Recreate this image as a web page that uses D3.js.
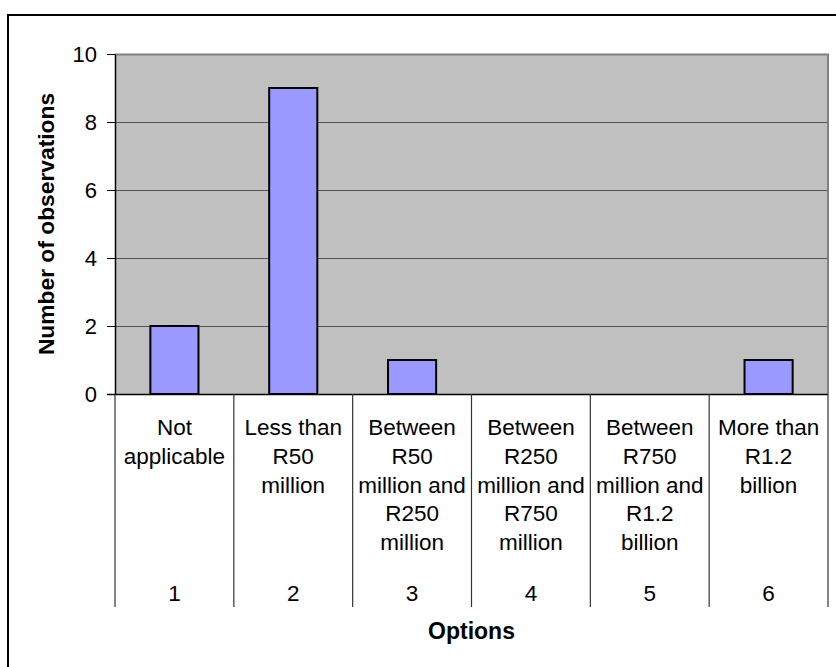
<!DOCTYPE html>
<html>
<head>
<meta charset="utf-8">
<script src="https://cdn.jsdelivr.net/npm/d3@7"></script>
<style>
  html, body { margin: 0; padding: 0; background: #fff; }
  svg { display: block; font-family: "Liberation Sans", Arial, Helvetica, sans-serif; }
</style>
</head>
<body>
<svg id="chart" width="836" height="667"></svg>
<script>
// Option numbers along the axis
const options = [1, 2, 3, 4, 5, 6];
// Wrapped option descriptions, one array of lines per option
const optionLabels = [
  ["Not", "applicable"],
  ["Less than", "R50", "million"],
  ["Between", "R50", "million and", "R250", "million"],
  ["Between", "R250", "million and", "R750", "million"],
  ["Between", "R750", "million and", "R1.2", "billion"],
  ["More than", "R1.2", "billion"]
];
// Number of observations for each option
const observations = [2, 9, 1, 0, 0, 1];
// Value-axis ticks
const yTicks = [0, 2, 4, 6, 8, 10];

const svg = d3.select("#chart");
const plot = { left: 115, right: 828, top: 54, bottom: 394 };
const FONT = "Liberation Sans, Arial, sans-serif";

const x = d3.scaleBand().domain(options).range([plot.left, plot.right]).paddingInner(0).paddingOuter(0);
const y = d3.scaleLinear().domain([0, 10]).range([plot.bottom, plot.top]);

// Chart frame (left and top edges visible)
svg.append("path")
  .attr("d", `M8,667 L8,15 L836,15`)
  .attr("fill", "none").attr("stroke", "#000").attr("stroke-width", 2);

// Plot background
svg.append("rect")
  .attr("x", plot.left).attr("y", plot.top)
  .attr("width", plot.right - plot.left).attr("height", plot.bottom - plot.top)
  .attr("fill", "#c0c0c0");

// Gridlines
svg.append("g").selectAll("line").data(yTicks.filter(d => d > 0 && d < 10)).join("line")
  .attr("x1", plot.left).attr("x2", plot.right)
  .attr("y1", d => y(d) + 0.5).attr("y2", d => y(d) + 0.5)
  .attr("stroke", "#555").attr("stroke-width", 1);

// Plot area top and right borders
svg.append("path")
  .attr("d", `M${plot.left},${plot.top + 0.5} L${plot.right},${plot.top + 0.5} L${plot.right},${plot.bottom}`)
  .attr("fill", "none").attr("stroke", "#808080").attr("stroke-width", 2);

// Bars
const barW = x.bandwidth() * 0.405;
svg.append("g").selectAll("rect").data(options).join("rect")
  .attr("x", (d) => x(d) + (x.bandwidth() - barW) / 2)
  .attr("y", (d, i) => y(observations[i]))
  .attr("width", barW)
  .attr("height", (d, i) => y(0) - y(observations[i]))
  .attr("fill", "#9999ff")
  .attr("stroke", "#000").attr("stroke-width", 2)
  .attr("display", (d, i) => observations[i] > 0 ? null : "none");

// Value axis
const yAxis = d3.axisLeft(y).tickValues(yTicks).tickSize(8).tickPadding(10).tickSizeOuter(0);
const gy = svg.append("g").attr("transform", `translate(${plot.left},0)`).call(yAxis);
gy.select(".domain").attr("stroke", "#000").attr("stroke-width", 1.5);
gy.selectAll(".tick line").attr("stroke", "#000");
gy.selectAll(".tick text").attr("font-size", 22).attr("fill", "#000").attr("font-family", FONT);

// Category axis: baseline plus separators between options
const sepBottom = 607;
svg.append("line")
  .attr("x1", plot.left - 8).attr("x2", plot.right)
  .attr("y1", plot.bottom + 0.5).attr("y2", plot.bottom + 0.5)
  .attr("stroke", "#000").attr("stroke-width", 1.5);
const bounds = options.map(d => x(d)).concat([plot.right]);
svg.append("g").selectAll("line").data(bounds).join("line")
  .attr("x1", d => d).attr("x2", d => d)
  .attr("y1", plot.bottom).attr("y2", sepBottom)
  .attr("stroke", "#333").attr("stroke-width", 1.2);

// Option descriptions
const lineH = 28.8;
const labelG = svg.append("g").attr("font-size", 22.5).attr("text-anchor", "middle").attr("fill", "#000");
options.forEach((d, i) => {
  const cx = x(d) + x.bandwidth() / 2;
  const t = labelG.append("text").attr("x", cx).attr("y", 435);
  optionLabels[i].forEach((line, j) => {
    t.append("tspan").attr("x", cx).attr("dy", j === 0 ? 0 : lineH).text(line);
  });
});

// Option numbers
svg.append("g").selectAll("text").data(options).join("text")
  .attr("x", d => x(d) + x.bandwidth() / 2)
  .attr("y", 601)
  .attr("text-anchor", "middle").attr("font-size", 22.5)
  .text(d => d);

// Axis titles
svg.append("text")
  .attr("x", (plot.left + plot.right) / 2).attr("y", 639)
  .attr("text-anchor", "middle").attr("font-size", 23).attr("font-weight", "bold")
  .text("Options");

svg.append("text")
  .attr("transform", `translate(54,224) rotate(-90)`)
  .attr("text-anchor", "middle").attr("font-size", 22.8).attr("font-weight", "bold")
  .text("Number of observations");
</script>
</body>
</html>
